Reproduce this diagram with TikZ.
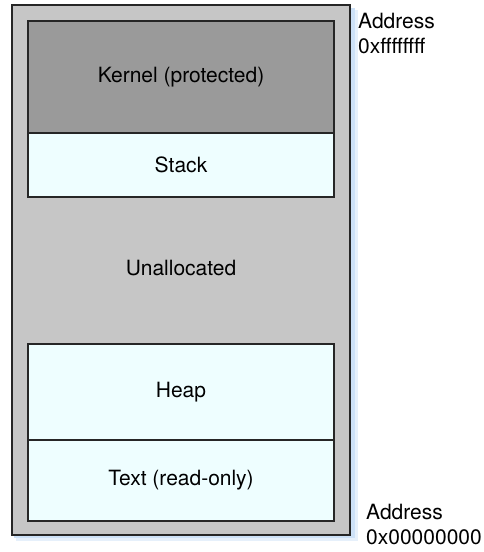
\documentclass[tikz,border=0pt]{standalone}
\usepackage{fontspec}
\setmainfont{TeX Gyre Heros}
\definecolor{framegray}{HTML}{C6C6C6}
\definecolor{kernelgray}{HTML}{9A9A9A}
\definecolor{segcyan}{HTML}{EEFEFF}
\definecolor{glowblue}{HTML}{B8D4F4}
\tikzset{%
	segment/.style={draw=black!85,line width=1.3pt,minimum width=306pt,inner sep=0pt,outer sep=0pt,fill=segcyan},
	addr/.style={anchor=north west,inner sep=0pt,align=left},
}

\begin{document}
\begin{tikzpicture}[x=1pt,y=-1pt,every node/.append style={font=\fontsize{21}{25}\selectfont}]
			\useasboundingbox (0,0) rectangle (484,552);
			
			%schatten
			\fill[glowblue!35] (16,10) rectangle (358,541);
			\fill[glowblue!70] (14,8) rectangle (355,538);
			
			%speicher
			\node[draw=black!85, line width=1.8pt, fill=framegray, minimum width=338pt, minimum height=530pt, inner sep=0pt] (memory) at (181,270) {};
			\node[segment, fill=kernelgray, minimum height=112pt] (kernel) at (181,77) {Kernel (protected)};
			\node[segment, minimum height=64pt] (stack) at (181,165) {Stack};
			\node (free) at (181,268) {Unallocated};
			\node[segment, minimum height=96pt] (heap) at (181,392) {Heap};
			\node[segment, minimum height=81pt] (text) at (181,480.5) {Text (read-only)};
			
			%adressen
			\node[addr] (top) at (358,13) {Address\\0xffffffff};
			\node[addr] (bottom) at (366,504) {Address\\0x00000000};
		\end{tikzpicture}
\end{document}
